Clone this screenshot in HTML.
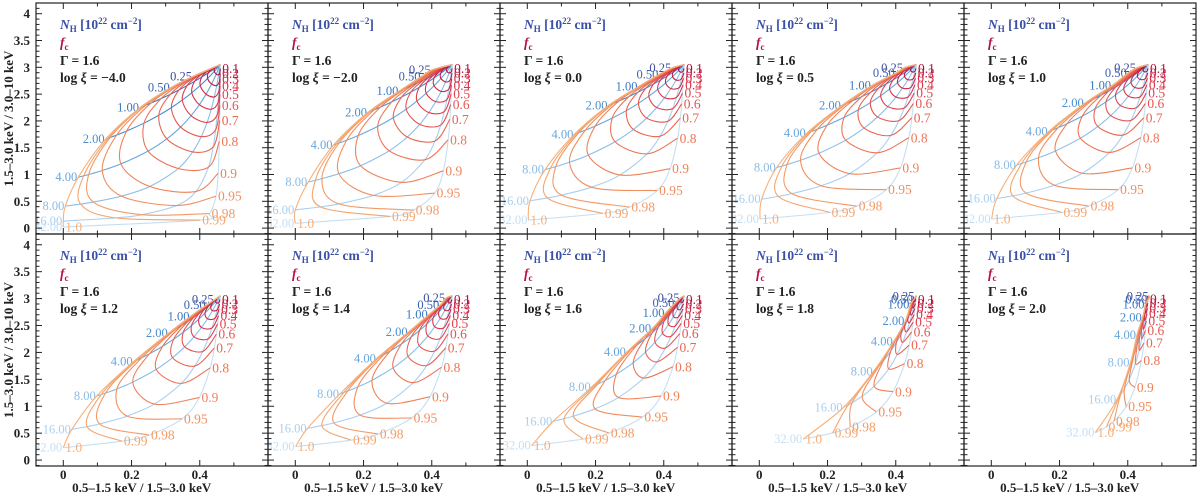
<!DOCTYPE html>
<html><head><meta charset="utf-8">
<style>
html,body{margin:0;padding:0;background:#fff;}
svg{display:block;font-family:"Liberation Serif","DejaVu Serif",serif;}
</style></head>
<body>
<svg id="chart" width="1200" height="495" viewBox="0 0 1200 495" xmlns="http://www.w3.org/2000/svg"></svg>
<script>
// ---- data ----
const nhValues = [0.25, 0.5, 1, 2, 4, 8, 16, 32];
const nhLabels = ["0.25","0.50","1.00","2.00","4.00","8.00","16.00","32.00"];
const fcValues = [0.1,0.2,0.3,0.4,0.5,0.6,0.7,0.8,0.9,0.95,0.98,0.99,1.0];
const fcLabels = ["0.1","0.2","0.3","0.4","0.5","0.6","0.7","0.8","0.9","0.95","0.98","0.99","1.0"];
const logXi = ["\u22124.0","\u22122.0","0.0","0.5","1.0","1.2","1.4","1.6","1.8","2.0"];
const gammaText = "1.6";
const apexRatio = [0.46, 3.05];            // unabsorbed (soft ratio, hard ratio)
const hardTransmission = [0.988,0.976,0.953,0.909,0.830,0.690,0.475,0.225]; // 3-10 keV transmission per NH
// fully covered colour ratios per panel (x = 0.5-1.5/1.5-3, y = 1.5-3/3-10) per NH
const fullX = [
 [0.38,0.315,0.225,0.124,0.044,0.006,0.0,0.0],
 [0.40,0.37,0.305,0.213,0.112,0.038,0.0,0.0],
 [0.425,0.387,0.326,0.238,0.138,0.052,0.008,0.003],
 [0.424,0.40,0.33,0.242,0.139,0.051,0.007,0.002],
 [0.427,0.40,0.354,0.274,0.168,0.075,0.016,0.001],
 [0.444,0.42,0.373,0.309,0.206,0.098,0.025,0.0],
 [0.442,0.425,0.391,0.332,0.239,0.131,0.036,0.001],
 [0.449,0.434,0.405,0.366,0.292,0.189,0.076,0.013],
 [0.458,0.453,0.443,0.428,0.394,0.335,0.247,0.129],
 [0.464,0.46,0.452,0.444,0.427,0.408,0.369,0.305]];
const fullY = [
 [2.83,2.62,2.25,1.66,0.95,0.41,0.13,0.02],
 [2.95,2.83,2.56,2.16,1.55,0.86,0.34,0.09],
 [2.99,2.87,2.64,2.29,1.75,1.09,0.51,0.15],
 [2.99,2.89,2.66,2.29,1.77,1.13,0.54,0.17],
 [2.99,2.89,2.66,2.33,1.80,1.18,0.55,0.17],
 [2.98,2.88,2.67,2.36,1.83,1.19,0.57,0.23],
 [3.01,2.88,2.70,2.38,1.89,1.23,0.59,0.25],
 [3.01,2.92,2.73,2.44,2.01,1.36,0.72,0.27],
 [3.04,2.98,2.89,2.58,2.20,1.65,0.98,0.39],
 [3.04,2.98,2.89,2.65,2.32,1.81,1.13,0.51]];
const xTicks = [0, 0.2, 0.4];
const xTickLabels = ["0","0.2","0.4"];
const yTicks = [0,0.5,1,1.5,2,2.5,3,3.5,4];
const yTickLabels = ["0","0.5","1","1.5","2","2.5","3","3.5","4"];

const nhColors = ["#3d4c9e","#3a62b2","#3b78c2","#4a8fd0","#68a7dc","#8bbde7","#a9cfef","#c4dff5"];
const fcColors = ["#b0123c","#c01c40","#cd2844","#d8354a","#df444f","#e55650","#e96651","#ed7555","#ef8258","#f18e5e","#f39a65","#f5a56d","#f7b07a"];

const NS = "http://www.w3.org/2000/svg";
const svg = document.getElementById('chart');
function mk(tag, attrs, parent){ const e=document.createElementNS(NS,tag); for(const k in attrs) e.setAttribute(k,attrs[k]); (parent||svg).appendChild(e); return e; }

const PW = 232, XMIN = -0.08, XMAX = 0.6, YMIN = -0.11, YMAX = 4.2;
const rowTop = [3, 234], rowBot = [234, 466];
function panelBox(i){ const c=i%5, r=Math.floor(i/5); return {left:36+PW*c, right:36+PW*(c+1), top:rowTop[r], bottom:rowBot[r], row:r, col:c}; }
function sx(b,v){ return b.left + (v-XMIN)/(XMAX-XMIN)*(b.right-b.left); }
function sy(b,v){ return b.bottom - (v-YMIN)/(YMAX-YMIN)*(b.bottom-b.top); }

function mix(p, k, fc){
  const T3 = hardTransmission[k];
  const T2 = T3*fullY[p][k]/apexRatio[1];
  const T1 = T2*fullX[p][k]/apexRatio[0];
  const f1=(1-fc)+fc*T1, f2=(1-fc)+fc*T2, f3=(1-fc)+fc*T3;
  return [apexRatio[0]*f1/f2, apexRatio[1]*f2/f3];
}
function splinePath(pts){
  let d = "M"+pts[0][0].toFixed(2)+","+pts[0][1].toFixed(2);
  for(let i=0;i<pts.length-1;i++){
    const p0=pts[Math.max(0,i-1)], p1=pts[i], p2=pts[i+1], p3=pts[Math.min(pts.length-1,i+2)];
    const c1=[p1[0]+(p2[0]-p0[0])/6, p1[1]+(p2[1]-p0[1])/6];
    const c2=[p2[0]-(p3[0]-p1[0])/6, p2[1]-(p3[1]-p1[1])/6];
    d+=" C"+c1[0].toFixed(2)+","+c1[1].toFixed(2)+" "+c2[0].toFixed(2)+","+c2[1].toFixed(2)+" "+p2[0].toFixed(2)+","+p2[1].toFixed(2);
  }
  return d;
}

for(let p=0;p<10;p++){
  const b = panelBox(p);
  const g = mk('g',{});
  
  
  const clipId='clip'+p;
  const cp = mk('clipPath',{id:clipId},g); mk('rect',{x:b.left,y:b.top,width:PW,height:b.bottom-b.top},cp);
  const plot = mk('g',{'clip-path':'url(#'+clipId+')'},g);

  nhValues.forEach((nh,k)=>{
    const pts=[[sx(b,apexRatio[0]),sy(b,apexRatio[1])]];
    fcValues.forEach(fc=>{ const r=mix(p,k,fc); pts.push([sx(b,r[0]),sy(b,r[1])]); });
    const path = mk('path',{d:splinePath(pts),fill:'none',stroke:nhColors[k],'stroke-width':1.1},plot);
    
    
    const end = pts[pts.length-1];
    const t = mk('text',{x:end[0]-1,y:end[1]+4,'text-anchor':'end','font-size':12.5,fill:nhColors[k]},plot);
    t.textContent = nhLabels[k];
    
    
  });
  fcValues.forEach((fc,j)=>{
    const pts=[[sx(b,apexRatio[0]),sy(b,apexRatio[1])]];
    nhValues.forEach((nh,k)=>{ const r=mix(p,k,fc); pts.push([sx(b,r[0]),sy(b,r[1])]); });
    const path = mk('path',{d:splinePath(pts),fill:'none',stroke:fcColors[j],'stroke-width':1.1},plot);
    
    
    const end = pts[pts.length-1];
    const t = mk('text',{x:end[0]+2,y:end[1]+4.5,'font-size':13.5,fill:fcColors[j]},plot);
    t.textContent = fcLabels[j];
    
    
  });

  const fr = mk('rect',{x:b.left,y:b.top,width:PW,height:b.bottom-b.top,fill:'none',stroke:'#222','stroke-width':1.2},g);
  
  
  for(let i=-1;i<=6;i++){
    const xv=i/10; if(xv<XMIN) continue;
    const X=sx(b,xv), major=(i%2===0), L=major?6:3.5;
    mk('line',{x1:X,y1:b.bottom,x2:X,y2:b.bottom-L,stroke:'#222','stroke-width':1},g);
    mk('line',{x1:X,y1:b.top,x2:X,y2:b.top+L,stroke:'#222','stroke-width':1},g);
  }
  for(let i=-1;i<=42;i++){
    const yv=i/10; if(yv<YMIN||yv>YMAX) continue;
    const Y=sy(b,yv), major=(i%5===0), L=major?6:3.5;
    mk('line',{x1:b.left,y1:Y,x2:b.left+L,y2:Y,stroke:'#222','stroke-width':1},g);
    mk('line',{x1:b.right,y1:Y,x2:b.right-L,y2:Y,stroke:'#222','stroke-width':1},g);
  }
  if(b.col===0){
    yTicks.forEach((v,i)=>{
      const t=mk('text',{x:b.left-6,y:sy(b,v)+4.5,'text-anchor':'end','font-size':13,'font-weight':'bold',fill:'#222'},g);
      t.textContent=yTickLabels[i];
      
      
    });
  }
  if(b.row===1){
    xTicks.forEach((v,i)=>{
      const t=mk('text',{x:sx(b,v),y:b.bottom+13,'text-anchor':'middle','font-size':13,'font-weight':'bold',fill:'#222'},g);
      t.textContent=xTickLabels[i];
      
      
    });
    const xl=mk('text',{x:sx(b,0.23),y:b.bottom+26,'text-anchor':'middle','font-size':13,'font-weight':'bold',fill:'#222'},g);
    xl.textContent='0.5\u20131.5 keV  /  1.5\u20133.0 keV';
    
    
  }
  const a1=mk('text',{x:b.left+24,y:b.top+26,'font-size':13.5,'font-weight':'bold',fill:'#3a4fa6'},g);
  a1.innerHTML='<tspan font-style="italic">N</tspan><tspan font-size="9" dy="3">H</tspan><tspan dy="-3"> [10</tspan><tspan font-size="9" dy="-5">22</tspan><tspan dy="5"> cm</tspan><tspan font-size="9" dy="-5">\u22122</tspan><tspan dy="5">]</tspan>';
  
  
  const a2=mk('text',{x:b.left+24,y:b.top+44,'font-size':13.5,'font-weight':'bold',fill:'#b5124a'},g);
  a2.innerHTML='<tspan font-style="italic">f</tspan><tspan font-size="9" dy="3">c</tspan>';
  
  
  const a3=mk('text',{x:b.left+24,y:b.top+62,'font-size':13.5,'font-weight':'bold',fill:'#222'},g);
  a3.textContent='\u0393 = '+gammaText;
  
  
  const a4=mk('text',{x:b.left+24,y:b.top+79,'font-size':13.5,'font-weight':'bold',fill:'#222'},g);
  a4.innerHTML='log <tspan font-style="italic">\u03be</tspan> = '+logXi[p];
  
  
}
[0,1].forEach(r=>{
  const cy=(rowTop[r]+rowBot[r])/2;
  const t=mk('text',{x:0,y:0,transform:'translate(13,'+cy+') rotate(-90)','text-anchor':'middle','font-size':13,'font-weight':'bold',fill:'#222'});
  t.textContent='1.5\u20133.0 keV  /  3.0\u201310 keV';
  
  
});
</script>
</body></html>
